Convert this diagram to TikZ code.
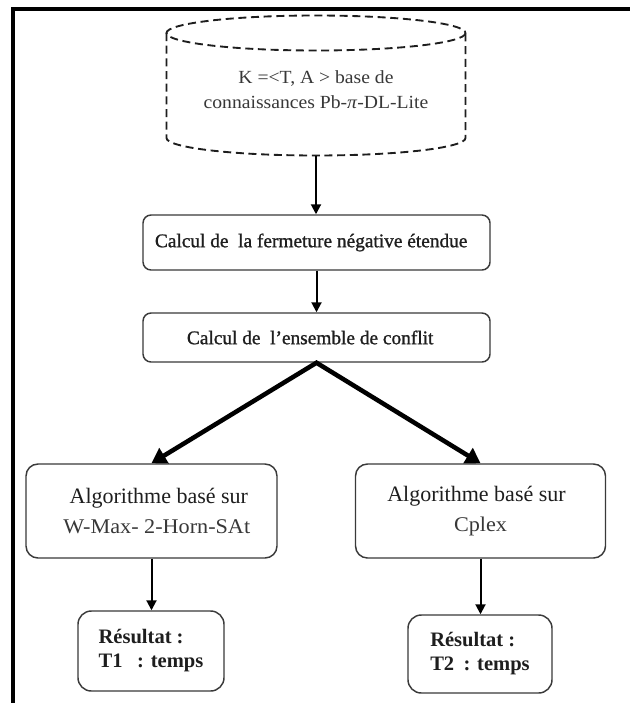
\documentclass[tikz,border=0pt]{standalone}
\usepackage{fontspec}
\setmainfont{Liberation Serif}
\newfontfamily\widefont[FakeStretch=1.06]{Liberation Serif}
\newfontfamily\calcface[FakeBold=1.1]{Liberation Serif}
\usetikzlibrary{arrows.meta}

\definecolor{edge}{HTML}{3A3A3A}
\definecolor{ink}{HTML}{1E1E1E}
\definecolor{softink}{HTML}{383838}

\begin{document}
\begin{tikzpicture}[x=0.75pt, y=-0.75pt,
  box/.style={draw=edge, line width=1.1pt, rounded corners=6pt, inner sep=0pt, align=center, text=ink},
  resbox/.style={box, rounded corners=10pt, align=left},
  dbline/.style={draw=ink, line width=1.4pt, dash pattern=on 6pt off 3.5pt},
  flow/.style={draw=black, line width=1.5pt, -{Triangle[length=7.5pt,width=7.5pt]}},
  bigflow/.style={draw=black, line width=3.4pt, line join=miter,
    {Triangle[length=11pt,width=13pt]}-{Triangle[length=11pt,width=13pt]}},
  calcfont/.style={font=\calcface\fontsize{14.5}{17}\selectfont},
  algofont/.style={font=\fontsize{16.5}{22.5}\selectfont},
  resfont/.style={font=\bfseries\fontsize{15.4}{18}\selectfont},
]
% page and open frame
\useasboundingbox (0,0) rectangle (629,703);
\fill[white] (0,0) rectangle (629,703);
\draw[line width=2.5pt] (640,9) -- (13,9) -- (13,715);

% knowledge base drawn as a dashed cylinder
\draw[dbline] (166.5,33) -- (166.5,138) arc[start angle=180, end angle=0, x radius=149.5, y radius=17.5] -- (465.5,33);
\draw[dbline] (316,33) ellipse[x radius=149.5, y radius=17.5];
\coordinate (dbbot) at (316,155.5);
\node[align=center, inner sep=0pt, text=softink, font=\widefont\fontsize{13.9}{18.75}\selectfont] (db) at (316,90)
  {K =<T, A > base de\\connaissances Pb-\textit{π}-DL-Lite};

% processing steps
\node[box, calcfont, minimum width=260.25pt, minimum height=41.25pt] (calc1) at (316.5,242.5)
  {Calcul de\ \ la fermeture négative\ étendue\hspace*{8pt}};
\node[box, calcfont, minimum width=260.25pt, minimum height=36.75pt] (calc2) at (316.5,337.5)
  {Calcul de\ \ l’ensemble de conflit\hspace*{9.5pt}};

% the two solvers
\node[box, algofont, rounded corners=9pt, minimum width=188.25pt, minimum height=70.5pt] (algoL) at (151.5,511)
  {\hspace*{11pt}Algorithme basé sur\\\hspace*{8pt}{\color{softink}\widefont\fontsize{15.7}{22.5}\selectfont W-Max- 2-Horn-SAt}};
\node[box, algofont, rounded corners=9pt, minimum width=187.5pt, minimum height=70.5pt] (algoR) at (480.5,511)
  {Algorithme basé sur\hspace*{6pt}\\{\color{softink}\widefont\fontsize{15.7}{22.5}\selectfont Cplex}};

% results
\node[resbox, resfont, minimum width=109.5pt, minimum height=60pt] (resL) at (151,651)
  {Résultat :\\T1\hspace{11pt}: temps};
\node[resbox, resfont, minimum width=108pt, minimum height=58.5pt] (resR) at (480,654)
  {Résultat :\\T2\hspace{7pt}: temps};

% connectors
\draw[flow] (dbbot) -- (dbbot |- calc1.north);
\draw[flow] (calc1.south) -- (calc2.north);
\draw[bigflow] (algoL.north) -- (calc2.south) -- (algoR.north);
\draw[flow] (algoL.south) -- (algoL.south |- resL.north);
\draw[flow] (algoR.south) -- (algoR.south |- resR.north);
\end{tikzpicture}
\end{document}
